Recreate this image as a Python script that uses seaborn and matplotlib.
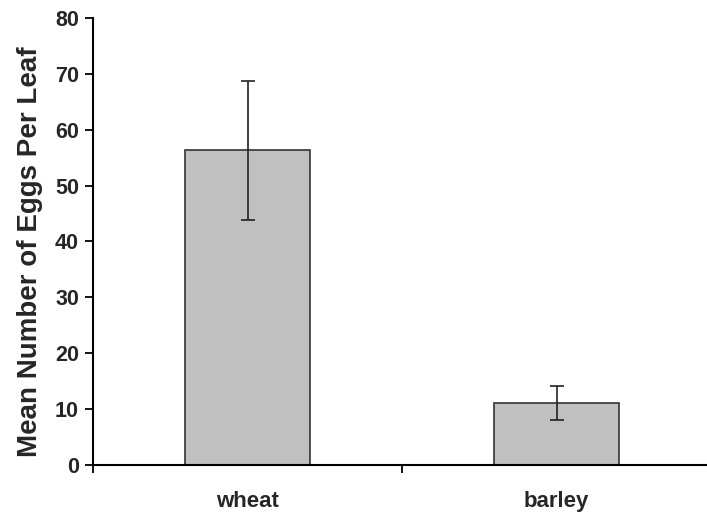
import matplotlib
matplotlib.use("Agg")
import matplotlib.pyplot as plt
import seaborn as sns
import pandas as pd

crops = ["wheat", "barley"]
mean_eggs = [56.3, 11.1]
err_eggs = [12.4, 3.0]
y_ticks = [0, 10, 20, 30, 40, 50, 60, 70, 80]

df = pd.DataFrame({"Crop": crops, "Eggs": mean_eggs})

sns.set_style("white")
plt.rcParams["font.family"] = ["Liberation Sans", "DejaVu Sans"]
plt.rcParams["font.weight"] = "bold"

fig = plt.figure(figsize=(7.07, 5.18), dpi=100)
ax = fig.add_axes([93 / 707, 53 / 518, 618 / 707, 447 / 518])

sns.barplot(data=df, x="Crop", y="Eggs", color="#c0c0c0", edgecolor="#333333",
            linewidth=1.2, width=0.405, saturation=1, ax=ax)
ax.errorbar(range(len(crops)), mean_eggs, yerr=err_eggs, fmt="none",
            ecolor="#222222", elinewidth=1.2, capsize=5, capthick=1.2)

ax.set_xlim(-0.5, 1.5)
ax.set_ylim(0, 80)
ax.set_yticks(y_ticks)
ax.set_yticklabels([str(t) for t in y_ticks], fontsize=15.5, fontweight="bold")

# category ticks sit between the bars, labels centred under them
ax.set_xticks([-0.5, 0.5, 1.5])
ax.set_xticklabels([])
ax.set_xticks([0, 1], minor=True)
ax.set_xticklabels(crops, minor=True, fontsize=16, fontweight="bold")
ax.tick_params(axis="x", which="major", direction="out", length=6, width=1.3,
               color="black", bottom=True)
ax.tick_params(axis="x", which="minor", length=0, pad=19)
ax.tick_params(axis="y", direction="out", length=6, width=1.3, color="black",
               left=True, pad=4)

ax.set_xlabel("")
ax.set_ylabel("Mean Number of Eggs Per Leaf", fontsize=20, fontweight="bold",
              labelpad=9, y=0.477)

sns.despine(ax=ax)
for side in ["left", "bottom"]:
    ax.spines[side].set_color("black")
    ax.spines[side].set_linewidth(1.5)

fig.savefig("out.png", dpi=100)
